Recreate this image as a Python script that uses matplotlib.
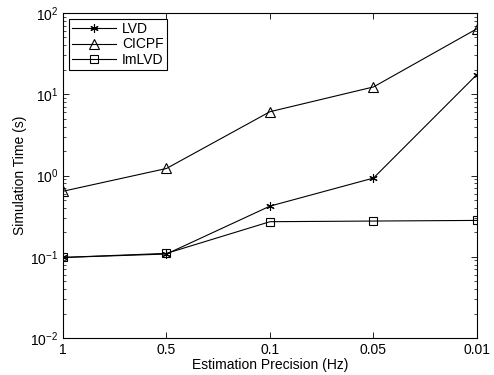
import matplotlib
matplotlib.use('Agg')
import matplotlib.pyplot as plt
from matplotlib.ticker import LogLocator, NullFormatter

plt.rcParams['font.family'] = ['Liberation Sans', 'DejaVu Sans']

precision_labels = ['1', '0.5', '0.1', '0.05', '0.01']
lvd = [0.098, 0.108, 0.42, 0.93, 17.5]
cicpf = [0.64, 1.22, 6.1, 12.3, 64]
imlvd = [0.098, 0.11, 0.27, 0.275, 0.28]

x = list(range(1, len(precision_labels) + 1))

fig = plt.figure(figsize=(4.94, 3.75), dpi=100)
ax = fig.add_axes([0.1275, 0.0987, 0.838, 0.8666])

ax.plot(x, lvd, color='black', lw=0.8, marker=(6, 2, 0), ms=6, mew=0.8, label='LVD')
ax.plot(x, cicpf, color='black', lw=0.8, marker='^', ms=7.5, mfc='none', mew=0.8, label='CICPF')
ax.plot(x, imlvd, color='black', lw=0.8, marker='s', ms=5.5, mfc='none', mew=0.8, label='ImLVD')

ax.set_yscale('log')
ax.set_ylim(1e-2, 1e2)
ax.set_xlim(1, 5)
ax.set_xticks(x)
ax.set_xticklabels(precision_labels)
ax.yaxis.set_major_locator(LogLocator(base=10, numticks=10))
ax.yaxis.set_minor_locator(LogLocator(base=10, subs=range(2, 10), numticks=10))
ax.yaxis.set_minor_formatter(NullFormatter())
ax.tick_params(which='both', direction='in', top=True, right=True, labelsize=10)
ax.tick_params(which='major', length=4, width=0.6)
ax.tick_params(which='minor', length=2, width=0.5)
for s in ax.spines.values():
    s.set_linewidth(0.8)

ax.set_xlabel('Estimation Precision (Hz)', fontsize=10, labelpad=1)
ax.set_ylabel('Simulation Time (s)', fontsize=10, labelpad=2)

leg = ax.legend(loc='upper left', fontsize=10, fancybox=False, edgecolor='black',
                framealpha=1, borderaxespad=0.4, handlelength=3.2,
                borderpad=0.25, labelspacing=0.1, handletextpad=0.4)
leg.get_frame().set_linewidth(0.8)

fig.savefig('out.png', dpi=100)
